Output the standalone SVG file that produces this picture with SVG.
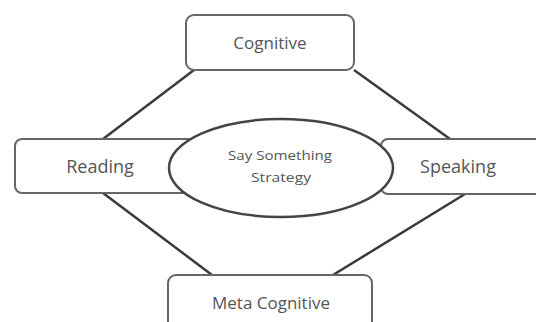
<svg xmlns="http://www.w3.org/2000/svg" width="536" height="322" viewBox="0 0 536 322">
<style>
.box{fill:#fff;stroke:#666;stroke-width:2}
.ell{fill:#fff;stroke:#444;stroke-width:2.5}
.con{stroke:#3a3a3a;stroke-width:2.5;fill:none}
.t{font-family:"Open Sans","Liberation Sans",sans-serif;fill:#555;text-anchor:middle;dominant-baseline:central}
</style>
<rect width="536" height="322" fill="#fff"/>
<g id="connectors">
<line class="con" x1="194" y1="70" x2="103" y2="139"/>
<line class="con" x1="354" y1="70" x2="450" y2="139"/>
<line class="con" x1="103" y1="193" x2="212" y2="275"/>
<line class="con" x1="465" y1="194" x2="333" y2="275"/>
</g>
<g id="cognitive">
<rect class="box" x="186" y="15" width="168" height="55" rx="8"/>
<text class="t" x="270" y="42" font-size="17">Cognitive</text>
</g>
<g id="reading">
<rect class="box" x="15" y="139" width="180" height="54" rx="7"/>
<text class="t" x="100" y="166" font-size="18">Reading</text>
</g>
<g id="speaking">
<rect class="box" x="381" y="139" width="170" height="55" rx="7"/>
<text class="t" x="458" y="166" font-size="18">Speaking</text>
</g>
<g id="metacognitive">
<rect class="box" x="168" y="275" width="204" height="60" rx="8"/>
<text class="t" x="271" y="302" font-size="17">Meta Cognitive</text>
</g>
<g id="center">
<ellipse class="ell" cx="281" cy="168" rx="112" ry="49"/>
<text class="t" x="280" y="155" font-size="13" textLength="104" lengthAdjust="spacingAndGlyphs">Say Something</text>
<text class="t" x="281" y="177" font-size="13" textLength="60" lengthAdjust="spacingAndGlyphs">Strategy</text>
</g>
</svg>
